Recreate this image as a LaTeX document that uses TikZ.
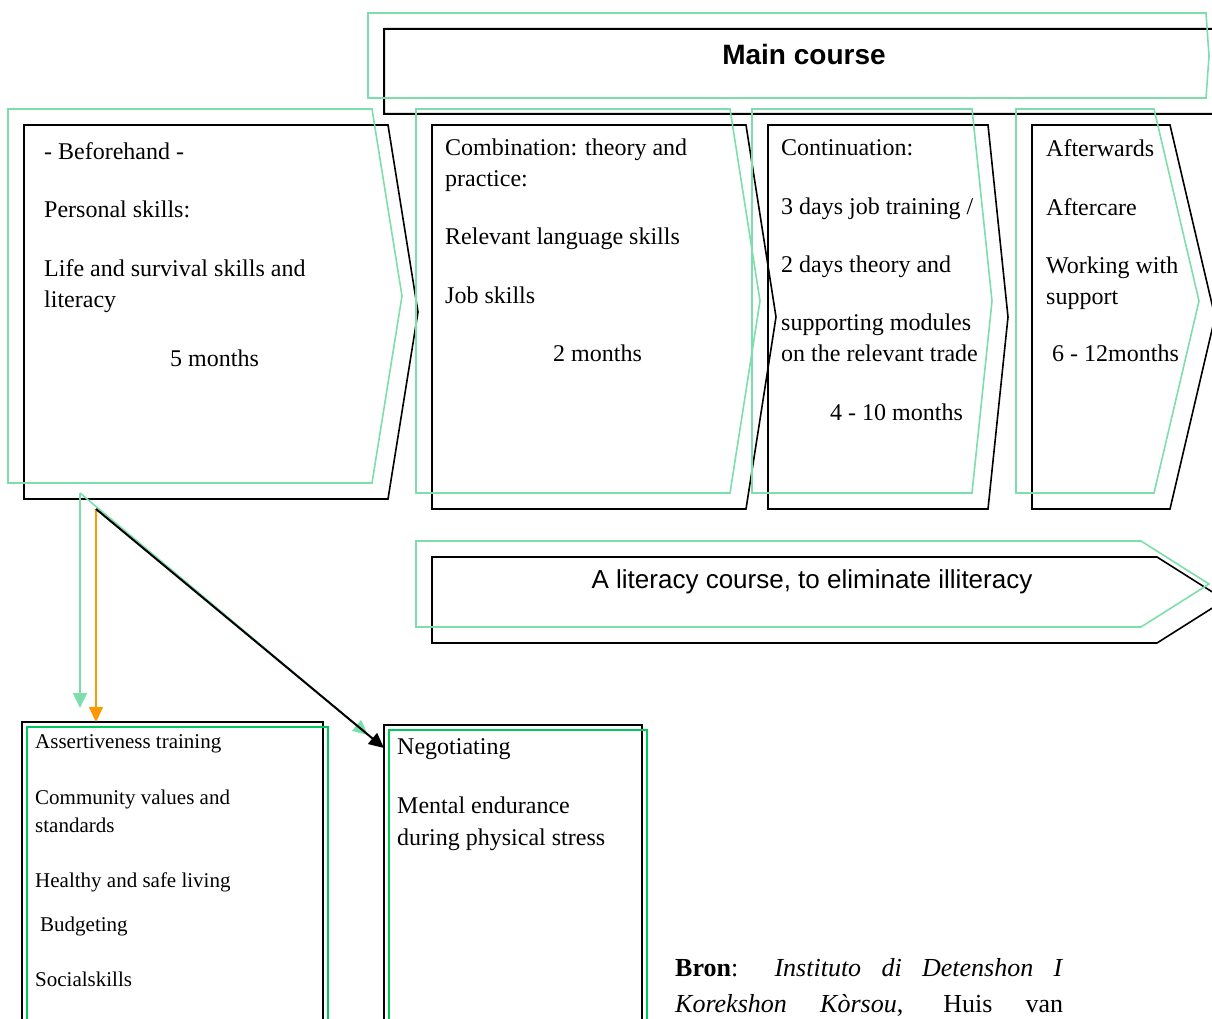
\documentclass[tikz,border=0pt]{standalone}
\usepackage{fontspec}
\setmainfont{Liberation Serif}
\setsansfont{Liberation Sans}
\usetikzlibrary{arrows.meta}
\definecolor{ghost}{RGB}{125,222,172}
\definecolor{framegreen}{RGB}{0,200,90}
\definecolor{arroworange}{RGB}{255,153,0}

\begin{document}
\begin{tikzpicture}[x=1pt, y=-1pt, line join=miter,
  box/.style={draw, line width=1.6pt},
  ghost line/.style={draw=ghost, line width=1.6pt},
  inner frame/.style={draw=framegreen, line width=1.8pt},
  txt/.style={align=left, anchor=base west, inner sep=0pt, font=\fontsize{24}{31}\selectfont},
  small txt/.style={txt, font=\fontsize{21}{28}\selectfont},
  tip/.style={-{Triangle[width=14pt, length=15pt]}}]
  \useasboundingbox (0,0) rectangle (1212,1019);
  \clip (0,0) rectangle (1212,1019);
  % main course banner
  \draw [box, line width=2pt] (384,29) -- (1222,29) -- (1225,72) -- (1222,114) -- (384,114) -- cycle;
  \draw [ghost line] (368,13) -- (1206,13) -- (1209,56) -- (1206,98) -- (368,98) -- cycle;
  \node (main) at (804,54) {\fontsize{28}{34}\selectfont\sffamily\bfseries Main course};
  % the four stages
  \foreach \l/\r/\p/\b in {24/388/418/499, 432/746/776/509, 768/988/1008/509, 1032/1170/1215/509} {
    \draw [box] (\l,125) -- (\r,125) -- (\p,{(125+\b)/2}) -- (\r,\b) -- (\l,\b) -- cycle;
    \draw [ghost line, shift={(-16,-16)}] (\l,125) -- (\r,125) -- (\p,{(125+\b)/2}) -- (\r,\b) -- (\l,\b) -- cycle;
  }
  % base of a node = baseline of its last line
  \node (before) [txt] at (44,366) {- Beforehand -\\[27pt] Personal skills:\\[28pt] Life and survival skills and\\ literacy\\[28pt] \hspace*{126pt}5 months};
  \node (combi) [txt] at (445,361) {Combination: theory and\\ practice:\\[27pt] Relevant language skills\\[28pt] Job skills\\[27pt] \hspace*{108pt}2 months};
  \node (cont) [txt] at (781,420) {Continuation:\\[28pt] 3 days job training /\\[27pt] 2 days theory and\\[27pt] supporting modules\\ on the relevant trade\\[28pt] \hspace*{49pt}4 - 10 months};
  \node (after) [txt] at (1046,361) {Afterwards\\[28pt] Aftercare\\[27pt] Working with\\ support\\[26pt] \hspace*{6pt}6 - 12months};
  % literacy course
  \draw [box] (432,557) -- (1157,557) -- (1225,600) -- (1157,643) -- (432,643) -- cycle;
  \draw [ghost line] (416,541) -- (1141,541) -- (1209,584) -- (1141,627) -- (416,627) -- cycle;
  \node (lit) at (812,582) {\fontsize{26}{30}\selectfont\sffamily A literacy course, to eliminate illiteracy};
  % lower boxes
  \draw [box, line width=2pt] (22,722) rectangle (323,1040);
  \draw [inner frame] (27,727) rectangle (328,1040);
  \draw [box, line width=2pt] (384,725) rectangle (642,1040);
  \draw [inner frame] (389,730) rectangle (647,1040);
  \node (assert) [small txt] at (35,986) {Assertiveness training\\[28pt] Community values and\\ standards\\[27pt] Healthy and safe living\\[16pt] \hspace*{5pt}Budgeting\\[27pt] Socialskills};
  \node (nego) [txt, font=\fontsize{24}{32}\selectfont] at (397,845) {Negotiating\\[27pt] Mental endurance\\ during physical stress};
  % arrows
  \coordinate (s1) at (80,493);
  \coordinate (s2) at (96,509);
  \coordinate (e1) at (80,708);
  \coordinate (e2) at (96,722);
  \coordinate (e3) at (368,735);
  \coordinate (e4) at (384,748);
  \draw [ghost line, tip, fill=ghost] (s1) -- (e1);
  \draw [ghost line, tip, fill=ghost] (s1) -- (e3);
  \draw [line width=1.8pt, draw=arroworange, tip, fill=arroworange] (s2) -- (e2);
  \draw [line width=2pt, tip] (s2) -- (e4);
  % source
  \node (bron) [anchor=base west, align=left, inner sep=0pt, font=\fontsize{26}{34}\selectfont] at (675,1012) {\makebox[388pt][s]{\textbf{Bron}: \textit{Instituto di Detenshon I}}\\[2pt] \makebox[388pt][s]{\textit{Korekshon Kòrsou}, Huis van}};
\end{tikzpicture}
\end{document}
